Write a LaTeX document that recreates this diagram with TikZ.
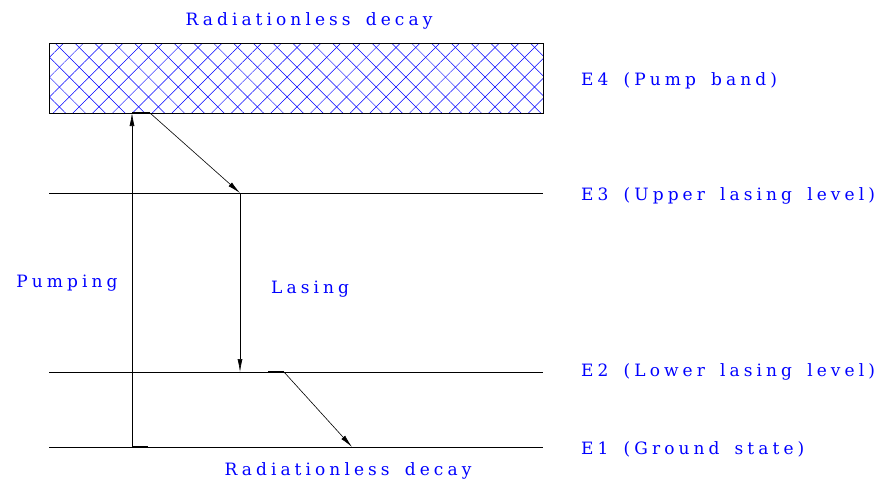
\documentclass[tikz,border=0pt]{standalone}
\usepackage{fontspec}
\setmainfont{DejaVu Serif}[LetterSpace=24, WordSpace=1.6]
\usepackage{xcolor}
\usetikzlibrary{arrows.meta, positioning, patterns.meta}

\begin{document}
\begin{tikzpicture}[
        x=1pt, y=-1pt,
        >={Latex[length=13pt, width=5pt]},
        level/.style={draw, line width=0.6pt},
        trans/.style={draw, line width=0.6pt, ->},
        tick/.style={draw, line width=1.2pt},
        label/.style={font=\fontsize{17}{19}\selectfont, text=blue, inner sep=0pt},
    ]
        \useasboundingbox (0,0) rectangle (880,483);

        % pump band
        \fill[pattern={Lines[angle=45, distance=14pt, line width=0.5pt]}, pattern color=blue]
            (49,43) rectangle (543,113);
        \fill[pattern={Lines[angle=-45, distance=14pt, line width=0.5pt]}, pattern color=blue]
            (49,43) rectangle (543,113);
        \draw[line width=0.6pt] (49,43) rectangle (543,113);

        % levels
        \path[level] (49,193) -- (543,193);
        \path[level] (49,372) -- (543,372);
        \path[level] (49,447) -- (543,447);

        \coordinate (p0) at (132,447);
        \coordinate (p1) at (132,113);
        \coordinate (d0) at (150,113);
        \coordinate (d1) at (240,193);
        \coordinate (l1) at (240,372);
        \coordinate (r0) at (268,372);
        \coordinate (r1) at (284,372);
        \coordinate (r2) at (352,447);

        \path[tick] (p0) -- (148,447);
        \path[tick] (p1) -- (d0);
        \path[tick] (r0) -- (r1);

        \path[trans] (p0) -- (p1);
        \path[trans] (d0) -- (d1);
        \path[trans] (d1) -- (l1);
        \path[trans] (r1) -- (r2);

        \node[label] (top) at (309,21) {Radiationless decay};
        \node[label] (bot) at (348,471) {Radiationless decay};
        \node[label] (pump) at (67,283) {Pumping};
        \node[label, anchor=west] (lase) at (271,289) {Lasing};
        \node[label, anchor=west] (e4) at (581,81) {E4 (Pump band)};
        \node[label, anchor=west] (e3) at (581,196) {E3 (Upper lasing level)};
        \node[label, anchor=west] (e2) at (581,372) {E2 (Lower lasing level)};
        \node[label, anchor=west] (e1) at (581,449) {E1 (Ground state)};
    \end{tikzpicture}
\end{document}
